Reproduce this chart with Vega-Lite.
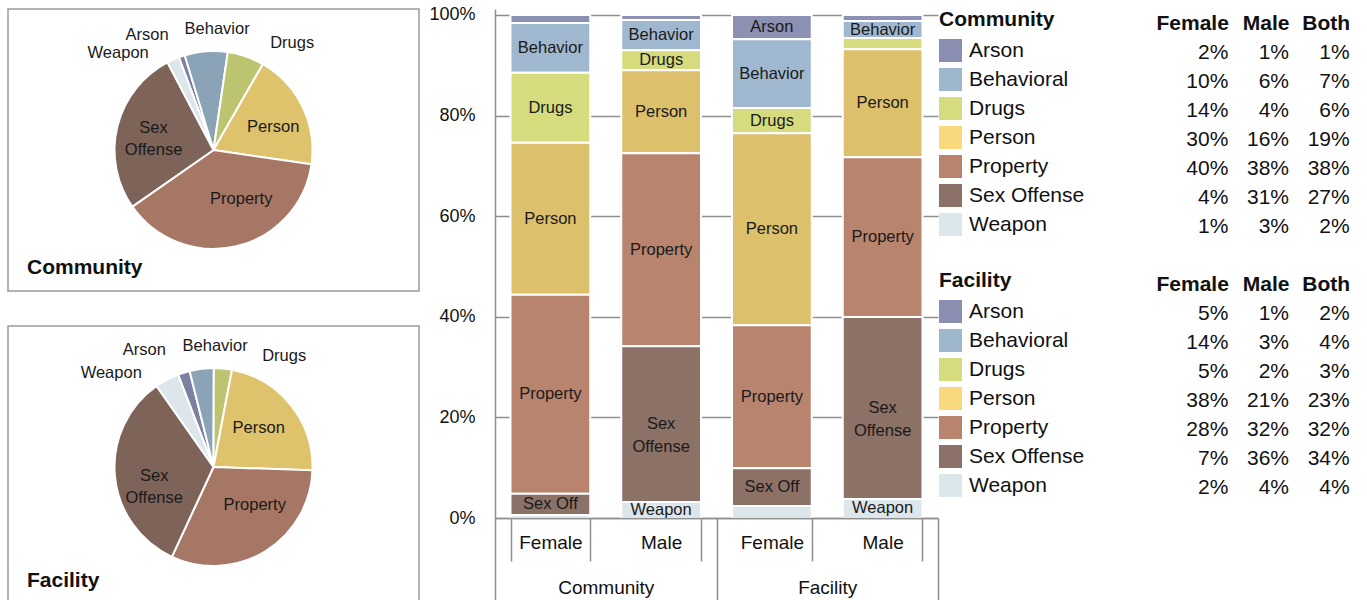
{
  "$schema": "https://vega.github.io/schema/vega-lite/v6.json",
  "background": "white",
  "padding": {"top": 5, "left": 7, "right": 0, "bottom": 0},
  "config": {
    "font": "Liberation Sans",
    "view": {"stroke": null},
    "axis": {"labelFont": "Liberation Sans", "titleFont": "Liberation Sans"},
    "legend": {"labelFont": "Liberation Sans", "titleFont": "Liberation Sans"},
    "title": {"font": "Liberation Sans"}
  },
  "datasets": {
    "pies": [
      {"group": "Community", "offense": "Arson", "pct": 1, "label": "Arson"},
      {"group": "Community", "offense": "Behavioral", "pct": 7, "label": "Behavior"},
      {"group": "Community", "offense": "Drugs", "pct": 6, "label": "Drugs"},
      {"group": "Community", "offense": "Person", "pct": 19, "label": "Person"},
      {"group": "Community", "offense": "Property", "pct": 38, "label": "Property"},
      {"group": "Community", "offense": "Sex Offense", "pct": 27, "label": "Sex\nOffense"},
      {"group": "Community", "offense": "Weapon", "pct": 2, "label": "Weapon"},
      {"group": "Facility", "offense": "Arson", "pct": 2, "label": "Arson"},
      {"group": "Facility", "offense": "Behavioral", "pct": 4, "label": "Behavior"},
      {"group": "Facility", "offense": "Drugs", "pct": 3, "label": "Drugs"},
      {"group": "Facility", "offense": "Person", "pct": 23, "label": "Person"},
      {"group": "Facility", "offense": "Property", "pct": 32, "label": "Property"},
      {"group": "Facility", "offense": "Sex Offense", "pct": 34, "label": "Sex\nOffense"},
      {"group": "Facility", "offense": "Weapon", "pct": 4, "label": "Weapon"}
    ],
    "bars": [
      {"bar": "Community Female", "group": "Community", "offense": "Arson", "pct": 1.6, "label": ""},
      {"bar": "Community Female", "group": "Community", "offense": "Behavioral", "pct": 9.9, "label": "Behavior"},
      {"bar": "Community Female", "group": "Community", "offense": "Drugs", "pct": 13.9, "label": "Drugs"},
      {"bar": "Community Female", "group": "Community", "offense": "Person", "pct": 30.2, "label": "Person"},
      {"bar": "Community Female", "group": "Community", "offense": "Property", "pct": 39.6, "label": "Property"},
      {"bar": "Community Female", "group": "Community", "offense": "Sex Offense", "pct": 4.2, "label": "Sex Off"},
      {"bar": "Community Female", "group": "Community", "offense": "Weapon", "pct": 0.6, "label": ""},
      {"bar": "Community Male", "group": "Community", "offense": "Arson", "pct": 1.0, "label": ""},
      {"bar": "Community Male", "group": "Community", "offense": "Behavioral", "pct": 6.0, "label": "Behavior"},
      {"bar": "Community Male", "group": "Community", "offense": "Drugs", "pct": 4.0, "label": "Drugs"},
      {"bar": "Community Male", "group": "Community", "offense": "Person", "pct": 16.5, "label": "Person"},
      {"bar": "Community Male", "group": "Community", "offense": "Property", "pct": 38.4, "label": "Property"},
      {"bar": "Community Male", "group": "Community", "offense": "Sex Offense", "pct": 31.0, "label": "Sex\nOffense"},
      {"bar": "Community Male", "group": "Community", "offense": "Weapon", "pct": 3.2, "label": "Weapon"},
      {"bar": "Facility Female", "group": "Facility", "offense": "Arson", "pct": 4.8, "label": "Arson"},
      {"bar": "Facility Female", "group": "Facility", "offense": "Behavioral", "pct": 13.7, "label": "Behavior"},
      {"bar": "Facility Female", "group": "Facility", "offense": "Drugs", "pct": 5.0, "label": "Drugs"},
      {"bar": "Facility Female", "group": "Facility", "offense": "Person", "pct": 38.2, "label": "Person"},
      {"bar": "Facility Female", "group": "Facility", "offense": "Property", "pct": 28.4, "label": "Property"},
      {"bar": "Facility Female", "group": "Facility", "offense": "Sex Offense", "pct": 7.5, "label": "Sex Off"},
      {"bar": "Facility Female", "group": "Facility", "offense": "Weapon", "pct": 2.4, "label": ""},
      {"bar": "Facility Male", "group": "Facility", "offense": "Arson", "pct": 1.2, "label": ""},
      {"bar": "Facility Male", "group": "Facility", "offense": "Behavioral", "pct": 3.4, "label": "Behavior"},
      {"bar": "Facility Male", "group": "Facility", "offense": "Drugs", "pct": 2.2, "label": ""},
      {"bar": "Facility Male", "group": "Facility", "offense": "Person", "pct": 21.5, "label": "Person"},
      {"bar": "Facility Male", "group": "Facility", "offense": "Property", "pct": 31.8, "label": "Property"},
      {"bar": "Facility Male", "group": "Facility", "offense": "Sex Offense", "pct": 36.2, "label": "Sex\nOffense"},
      {"bar": "Facility Male", "group": "Facility", "offense": "Weapon", "pct": 3.8, "label": "Weapon"}
    ],
    "table": [
      {"section": "Community", "offense": "Arson", "Female": 0.02, "Male": 0.01, "Both": 0.01},
      {"section": "Community", "offense": "Behavioral", "Female": 0.10, "Male": 0.06, "Both": 0.07},
      {"section": "Community", "offense": "Drugs", "Female": 0.14, "Male": 0.04, "Both": 0.06},
      {"section": "Community", "offense": "Person", "Female": 0.30, "Male": 0.16, "Both": 0.19},
      {"section": "Community", "offense": "Property", "Female": 0.40, "Male": 0.38, "Both": 0.38},
      {"section": "Community", "offense": "Sex Offense", "Female": 0.04, "Male": 0.31, "Both": 0.27},
      {"section": "Community", "offense": "Weapon", "Female": 0.01, "Male": 0.03, "Both": 0.02},
      {"section": "Facility", "offense": "Arson", "Female": 0.05, "Male": 0.01, "Both": 0.02},
      {"section": "Facility", "offense": "Behavioral", "Female": 0.14, "Male": 0.03, "Both": 0.04},
      {"section": "Facility", "offense": "Drugs", "Female": 0.05, "Male": 0.02, "Both": 0.03},
      {"section": "Facility", "offense": "Person", "Female": 0.38, "Male": 0.21, "Both": 0.23},
      {"section": "Facility", "offense": "Property", "Female": 0.28, "Male": 0.32, "Both": 0.32},
      {"section": "Facility", "offense": "Sex Offense", "Female": 0.07, "Male": 0.36, "Both": 0.34},
      {"section": "Facility", "offense": "Weapon", "Female": 0.02, "Male": 0.04, "Both": 0.04}
    ]
  },
  "resolve": {"scale": {"color": "independent", "theta": "independent", "x": "independent", "y": "independent"}, "legend": {"color": "independent"}},
  "spacing": 0,
  "hconcat": [
    {
      "vconcat": [
        {
          "width": 411, "height": 282,
          "view": {"stroke": "#9b9b9b", "strokeWidth": 1.5},
          "title": {"text": "Community", "orient": "bottom", "anchor": "start", "frame": "group", "offset": -34, "dx": 19, "fontSize": 21, "fontWeight": "bold", "color": "#111"},
          "data": {"name": "pies"},
          "transform": [{"filter": "datum.group == 'Community'"}],
          "layer": [
            {"mark": {"type": "arc", "radius": 99, "stroke": "white", "strokeWidth": 2},
             "encoding": {
               "theta": {"field": "pct", "type": "quantitative", "stack": true, "scale": {"range": [-0.3578, 5.9254]}},
               "order": {"field": "offense", "sort": "ascending"},
               "color": {"field": "offense", "type": "nominal", "legend": null, "scale": {"domain": ["Arson", "Behavioral", "Drugs", "Person", "Property", "Sex Offense", "Weapon"], "range": ["#7c80a3", "#8ba3b7", "#bcc46f", "#dfc26c", "#a77766", "#7e6359", "#dde6ea"]}}}},
            {"mark": {"type": "text", "radius": 64, "fontSize": 16.5, "color": "#1a1a1a", "lineBreak": "\n", "lineHeight": 22},
             "encoding": {
               "theta": {"field": "pct", "type": "quantitative", "stack": true, "bandPosition": 0.57},
               "order": {"field": "offense", "sort": "ascending"}, "detail": {"field": "offense"},
               "text": {"condition": {"test": "datum.offense == 'Person' || datum.offense == 'Sex Offense'", "field": "label", "type": "nominal"}, "value": ""}}},
            {"mark": {"type": "text", "radius": 56, "fontSize": 16.5, "color": "#1a1a1a"},
             "encoding": {
               "theta": {"field": "pct", "type": "quantitative", "stack": true, "bandPosition": 0.38},
               "order": {"field": "offense", "sort": "ascending"}, "detail": {"field": "offense"},
               "text": {"condition": {"test": "datum.offense == 'Property'", "field": "label", "type": "nominal"}, "value": ""}}},
            {"mark": {"type": "text", "radius": 112, "align": "right", "dx": -19, "dy": 5, "fontSize": 16.5, "color": "#1a1a1a"},
             "encoding": {
               "theta": {"field": "pct", "type": "quantitative", "stack": true},
               "order": {"field": "offense", "sort": "ascending"}, "detail": {"field": "offense"},
               "text": {"condition": {"test": "datum.offense == 'Weapon'", "field": "label", "type": "nominal"}, "value": ""}}},
            {"mark": {"type": "text", "radius": 112, "align": "right", "dx": -9, "dy": -9, "fontSize": 16.5, "color": "#1a1a1a"},
             "encoding": {
               "theta": {"field": "pct", "type": "quantitative", "stack": true},
               "order": {"field": "offense", "sort": "ascending"}, "detail": {"field": "offense"},
               "text": {"condition": {"test": "datum.offense == 'Arson'", "field": "label", "type": "nominal"}, "value": ""}}},
            {"mark": {"type": "text", "radius": 112, "align": "center", "dx": 12, "dy": -9, "fontSize": 16.5, "color": "#1a1a1a"},
             "encoding": {
               "theta": {"field": "pct", "type": "quantitative", "stack": true},
               "order": {"field": "offense", "sort": "ascending"}, "detail": {"field": "offense"},
               "text": {"condition": {"test": "datum.offense == 'Behavioral'", "field": "label", "type": "nominal"}, "value": ""}}},
            {"mark": {"type": "text", "radius": 112, "align": "left", "dx": 20, "dy": -1, "fontSize": 16.5, "color": "#1a1a1a"},
             "encoding": {
               "theta": {"field": "pct", "type": "quantitative", "stack": true},
               "order": {"field": "offense", "sort": "ascending"}, "detail": {"field": "offense"},
               "text": {"condition": {"test": "datum.offense == 'Drugs'", "field": "label", "type": "nominal"}, "value": ""}}}
          ]
        },
        {
          "width": 411, "height": 282,
          "view": {"stroke": "#9b9b9b", "strokeWidth": 1.5},
          "title": {"text": "Facility", "orient": "bottom", "anchor": "start", "frame": "group", "offset": -38, "dx": 19, "fontSize": 21, "fontWeight": "bold", "color": "#111"},
          "data": {"name": "pies"},
          "transform": [{"filter": "datum.group == 'Facility'"}],
          "layer": [
            {"mark": {"type": "arc", "radius": 99, "stroke": "white", "strokeWidth": 2},
             "encoding": {
               "theta": {"field": "pct", "type": "quantitative", "stack": true, "scale": {"range": [-0.3665, 5.9167]}},
               "order": {"field": "offense", "sort": "ascending"},
               "color": {"field": "offense", "type": "nominal", "legend": null, "scale": {"domain": ["Arson", "Behavioral", "Drugs", "Person", "Property", "Sex Offense", "Weapon"], "range": ["#7c80a3", "#8ba3b7", "#bcc46f", "#dfc26c", "#a77766", "#7e6359", "#dde6ea"]}}}},
            {"mark": {"type": "text", "radius": 60, "fontSize": 16.5, "color": "#1a1a1a", "lineBreak": "\n", "lineHeight": 22},
             "encoding": {
               "theta": {"field": "pct", "type": "quantitative", "stack": true, "bandPosition": 0.47},
               "order": {"field": "offense", "sort": "ascending"}, "detail": {"field": "offense"},
               "text": {"condition": {"test": "datum.offense == 'Person' || datum.offense == 'Sex Offense'", "field": "label", "type": "nominal"}, "value": ""}}},
            {"mark": {"type": "text", "radius": 56, "fontSize": 16.5, "color": "#1a1a1a"},
             "encoding": {
               "theta": {"field": "pct", "type": "quantitative", "stack": true, "bandPosition": 0.36},
               "order": {"field": "offense", "sort": "ascending"}, "detail": {"field": "offense"},
               "text": {"condition": {"test": "datum.offense == 'Property'", "field": "label", "type": "nominal"}, "value": ""}}},
            {"mark": {"type": "text", "radius": 112, "align": "right", "dx": -19, "dy": 5, "fontSize": 16.5, "color": "#1a1a1a"},
             "encoding": {
               "theta": {"field": "pct", "type": "quantitative", "stack": true},
               "order": {"field": "offense", "sort": "ascending"}, "detail": {"field": "offense"},
               "text": {"condition": {"test": "datum.offense == 'Weapon'", "field": "label", "type": "nominal"}, "value": ""}}},
            {"mark": {"type": "text", "radius": 112, "align": "right", "dx": -14, "dy": -10, "fontSize": 16.5, "color": "#1a1a1a"},
             "encoding": {
               "theta": {"field": "pct", "type": "quantitative", "stack": true},
               "order": {"field": "offense", "sort": "ascending"}, "detail": {"field": "offense"},
               "text": {"condition": {"test": "datum.offense == 'Arson'", "field": "label", "type": "nominal"}, "value": ""}}},
            {"mark": {"type": "text", "radius": 112, "align": "center", "dx": 15, "dy": -10, "fontSize": 16.5, "color": "#1a1a1a"},
             "encoding": {
               "theta": {"field": "pct", "type": "quantitative", "stack": true},
               "order": {"field": "offense", "sort": "ascending"}, "detail": {"field": "offense"},
               "text": {"condition": {"test": "datum.offense == 'Behavioral'", "field": "label", "type": "nominal"}, "value": ""}}},
            {"mark": {"type": "text", "radius": 112, "align": "left", "dx": 38, "dy": 0, "fontSize": 16.5, "color": "#1a1a1a"},
             "encoding": {
               "theta": {"field": "pct", "type": "quantitative", "stack": true},
               "order": {"field": "offense", "sort": "ascending"}, "detail": {"field": "offense"},
               "text": {"condition": {"test": "datum.offense == 'Drugs'", "field": "label", "type": "nominal"}, "value": ""}}}
          ]
        }
      ],
      "spacing": 33,
      "resolve": {"scale": {"color": "independent", "theta": "independent"}}
    },
    {
      "width": 443, "height": 509,
      "data": {"name": "bars"},
      "layer": [
        {"mark": {"type": "bar", "stroke": "white", "strokeWidth": 2},
         "encoding": {
           "x": {"field": "bar", "type": "nominal", "sort": ["Community Female", "Community Male", "Facility Female", "Facility Male"],
                 "scale": {"paddingInner": 0.28, "paddingOuter": 0.14},
                 "axis": {"title": null, "labelExpr": "split(datum.value, ' ')[1]", "labelAngle": 0, "labelFontSize": 19, "labelColor": "#111", "tickBand": "extent", "tickSize": 43, "tickColor": "#8f8f8f", "tickWidth": 1.5, "domainColor": "#8f8f8f", "domainWidth": 1.5, "labelPadding": -28, "zindex": 1}},
           "y": {"field": "pct", "type": "quantitative", "stack": "normalize", "scale": {"domain": [0, 1.0119], "nice": false},
                 "axis": {"format": ".0%", "values": [0, 0.2, 0.4, 0.6, 0.8, 1], "title": null, "grid": true, "gridColor": "#8f8f8f", "gridWidth": 1.5, "ticks": false, "domainColor": "#8f8f8f", "domainWidth": 1.5, "labelFontSize": 18, "labelColor": "#111", "labelPadding": 20, "minExtent": 75}},
           "color": {"field": "offense", "type": "nominal", "legend": null, "scale": {"domain": ["Arson", "Behavioral", "Drugs", "Person", "Property", "Sex Offense", "Weapon"], "range": ["#8c90b2", "#a0b8cf", "#d6dc7e", "#ddc06c", "#b8846e", "#8c7166", "#dde7eb"]}},
           "order": {"field": "offense", "sort": "descending"}}},
        {"mark": {"type": "text", "fontSize": 16.5, "color": "#1a1a1a", "lineBreak": "\n", "lineHeight": 23},
         "encoding": {
           "x": {"field": "bar", "type": "nominal", "sort": ["Community Female", "Community Male", "Facility Female", "Facility Male"], "scale": {"paddingInner": 0.28, "paddingOuter": 0.14}, "axis": null},
           "y": {"field": "pct", "type": "quantitative", "stack": "normalize", "bandPosition": 0.5},
           "detail": {"field": "offense"},
           "order": {"field": "offense", "sort": "descending"},
           "text": {"field": "label", "type": "nominal"}}},
        {"mark": {"type": "bar", "opacity": 0},
         "encoding": {
           "x": {"field": "group", "type": "nominal", "scale": {"paddingInner": 0, "paddingOuter": 0},
                 "axis": {"orient": "bottom", "title": null, "labelAngle": 0, "labelFontSize": 19, "labelColor": "#111", "tickBand": "extent", "tickSize": 83, "tickColor": "#8f8f8f", "tickWidth": 1.5, "domain": false, "labelPadding": -23, "zindex": 1}}}}
      ],
      "resolve": {"scale": {"x": "independent"}}
    },
    {
      "vconcat": [
        {
          "width": 182, "height": 232,
          "data": {"name": "table"},
          "transform": [{"filter": "datum.section == 'Community'"}, {"fold": ["Female", "Male", "Both"], "as": ["col", "val"]}],
          "encoding": {
            "y": {"field": "offense", "type": "nominal", "axis": null, "scale": {"type": "band", "paddingInner": 0, "paddingOuter": 0.5, "align": 1}}
          },
          "layer": [
            {"mark": {"type": "text", "align": "right", "baseline": "middle", "fontSize": 21, "color": "#111"},
             "encoding": {
               "x": {"field": "col", "type": "nominal", "sort": ["Female", "Male", "Both"], "bandPosition": 1, "scale": {"paddingInner": 0, "paddingOuter": 0},
                     "axis": {"orient": "top", "title": null, "domain": false, "ticks": false, "labelAngle": 0, "labelFontSize": 21, "labelFontWeight": "bold", "labelColor": "#111", "labelAlign": "right", "bandPosition": 1, "labelPadding": -24}},
               "text": {"field": "val", "type": "quantitative", "format": ".0%"}}},
            {"mark": {"type": "square", "opacity": 0},
             "encoding": {
               "color": {"field": "offense", "type": "nominal", "scale": {"domain": ["Arson", "Behavioral", "Drugs", "Person", "Property", "Sex Offense", "Weapon"], "range": ["#8a8fb1", "#9eb7cd", "#d5dc7d", "#fad87c", "#b9846d", "#8c7168", "#dce7eb"]},
                         "legend": {"title": "Community", "titleFontSize": 21, "titleFontWeight": "bold", "titleColor": "#111", "titlePadding": 9, "orient": "left", "offset": 113, "symbolType": "square", "symbolSize": 529, "symbolStrokeWidth": 0, "symbolOpacity": 1, "labelFontSize": 21, "labelColor": "#111", "rowPadding": 6, "labelOffset": 7, "padding": 0, "labelLimit": 300}}}}
          ]
        },
        {
          "width": 182, "height": 232,
          "data": {"name": "table"},
          "transform": [{"filter": "datum.section == 'Facility'"}, {"fold": ["Female", "Male", "Both"], "as": ["col", "val"]}],
          "encoding": {
            "y": {"field": "offense", "type": "nominal", "axis": null, "scale": {"type": "band", "paddingInner": 0, "paddingOuter": 0.5, "align": 1}}
          },
          "layer": [
            {"mark": {"type": "text", "align": "right", "baseline": "middle", "fontSize": 21, "color": "#111"},
             "encoding": {
               "x": {"field": "col", "type": "nominal", "sort": ["Female", "Male", "Both"], "bandPosition": 1, "scale": {"paddingInner": 0, "paddingOuter": 0},
                     "axis": {"orient": "top", "title": null, "domain": false, "ticks": false, "labelAngle": 0, "labelFontSize": 21, "labelFontWeight": "bold", "labelColor": "#111", "labelAlign": "right", "bandPosition": 1, "labelPadding": -24}},
               "text": {"field": "val", "type": "quantitative", "format": ".0%"}}},
            {"mark": {"type": "square", "opacity": 0},
             "encoding": {
               "color": {"field": "offense", "type": "nominal", "scale": {"domain": ["Arson", "Behavioral", "Drugs", "Person", "Property", "Sex Offense", "Weapon"], "range": ["#8a8fb1", "#9eb7cd", "#d5dc7d", "#fad87c", "#b9846d", "#8c7168", "#dce7eb"]},
                         "legend": {"title": "Facility", "titleFontSize": 21, "titleFontWeight": "bold", "titleColor": "#111", "titlePadding": 9, "orient": "left", "offset": 113, "symbolType": "square", "symbolSize": 529, "symbolStrokeWidth": 0, "symbolOpacity": 1, "labelFontSize": 21, "labelColor": "#111", "rowPadding": 6, "labelOffset": 7, "padding": 0, "labelLimit": 300}}}}
          ]
        }
      ],
      "spacing": 29,
      "resolve": {"scale": {"color": "independent", "x": "independent", "y": "independent"}, "legend": {"color": "independent"}}
    }
  ]
}
